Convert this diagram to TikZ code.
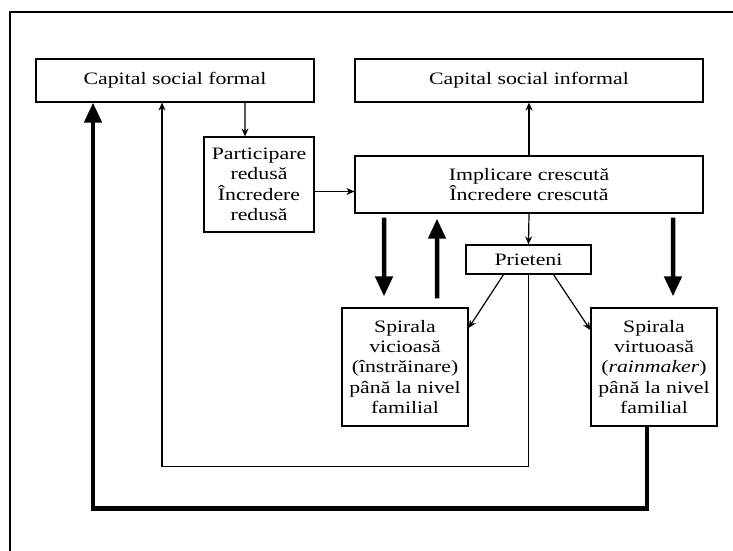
\documentclass[tikz,border=0pt]{standalone}
\usepackage{fontspec}
\setmainfont{Liberation Serif}[FakeStretch=1.25]
\usepackage{tikz}
\usetikzlibrary{arrows.meta,positioning,calc}
\tikzset{
    every node/.append style={font=\fontsize{17.5}{20.5}\selectfont},
    box/.style={draw, line width=1.2bp, align=center, inner sep=0pt},
    fine/.style={line width=1.2bp, -{Stealth[length=8bp,width=7bp]}},
    heavy/.style={line width=4.5bp, -{Triangle[length=20bp,width=17bp]}}}

\begin{document}
\begin{tikzpicture}[x=1bp,y=-1bp]%[scale=.4]
    \useasboundingbox (0,0) rectangle (733,551);
    \draw[line width=1.5bp] (10,551) -- (10,12) -- (733,12);

    \node[box, minimum width=278bp, minimum height=43bp] (formal) at (175,80.5) {Capital social formal};
    \node[box, minimum width=348bp, minimum height=43bp] (informal) at (529,80.5) {Capital social informal};
    \node[box, minimum width=110bp, minimum height=95bp] (particip) at (259,184.5) {Participare\\redusă\\Încredere\\redusă};
    \node[box, minimum width=348bp, minimum height=57bp] (implicare) at (529,184.5) {Implicare crescută\\Încredere crescută};
    \node[box, minimum width=125bp, minimum height=29bp] (prieteni) at (528.5,259.5) {Prieteni};
    \node[box, minimum width=126bp, minimum height=118bp] (vicioasa) at (405,367) {Spirala\\vicioasă\\(înstrăinare)\\până la nivel\\familial};
    \node[box, minimum width=126bp, minimum height=118bp] (virtuoasa) at (654,367) {Spirala\\virtuoasă\\(\textit{rainmaker})\\până la nivel\\familial};

    \path[fine]
    ([xshift=70bp]formal.south) edge ([xshift=-14bp]particip.north)
    ([yshift=-7bp]particip.east) edge ([yshift=-7bp]implicare.west)
    (implicare.north) edge (informal.south)
    (implicare.south) edge (prieteni.north)
    ([xshift=-25bp]prieteni.south) edge ([yshift=39bp]vicioasa.east)
    ([xshift=25bp]prieteni.south) edge ([yshift=37bp]virtuoasa.west);
    \draw[fine] (prieteni.south) -- ++(0,192) -| ([xshift=-13bp]formal.south);

    \path[heavy]
    ([xshift=-145bp,yshift=-4bp]implicare.south) edge ([xshift=-21bp,yshift=11bp]vicioasa.north)
    ([xshift=32bp,yshift=9bp]vicioasa.north) edge ([xshift=-92bp,yshift=-5bp]implicare.south)
    ([xshift=144bp,yshift=-4bp]implicare.south) edge ([xshift=19bp,yshift=11bp]virtuoasa.north);
    \draw[heavy] ([xshift=-7bp]virtuoasa.south) -- ++(0,82) -| ([xshift=-82bp]formal.south);
\end{tikzpicture}
\end{document}
